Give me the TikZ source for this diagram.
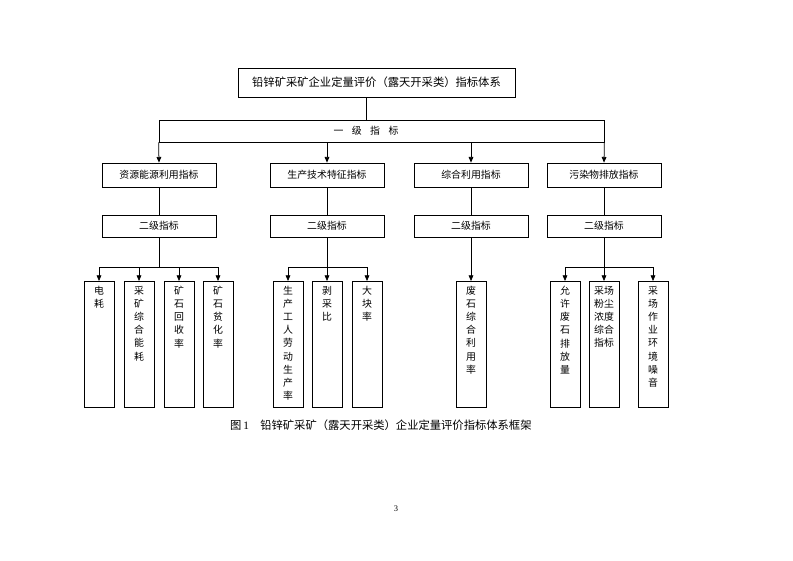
\documentclass[tikz,border=0pt]{standalone}
\usepackage{fontspec}
\setmainfont{Liberation Serif}
\newfontfamily\cjk{Noto Sans CJK SC}
\usetikzlibrary{arrows.meta}

% one pixel of the page, as a length
\def\pxu{1.0617pt}

\tikzset{
	box/.style={draw, line width=0.8pt, inner sep=0pt, font=\cjk\fontsize{10.5}{12}\selectfont},
	headbox/.style={box, minimum width=114*\pxu},
	leafbox/.style={draw, line width=0.8pt, inner sep=0pt, anchor=north, minimum width=30*\pxu, minimum height=126*\pxu},
	vtext/.style={inner sep=0pt, anchor=north, align=center, font=\cjk\fontsize{10.5}{14}\selectfont},
	conn/.style={line width=0.8pt},
	link/.style={conn, -{Triangle[length=6pt,width=5pt]}},
}

\begin{document}
\begin{tikzpicture}[x=\pxu, y=-\pxu]
	\useasboundingbox (0,0) rectangle (793,561);

	% top of the tree
	\node[box, minimum width=277*\pxu, minimum height=29*\pxu, font=\cjk\fontsize{12}{14}\selectfont]
		(top) at (376.5,82.5) {铅锌矿采矿企业定量评价（露天开采类）指标体系};
	\node[draw, line width=0.8pt, minimum width=445*\pxu, minimum height=22*\pxu] (band) at (381.5,131) {};
	\node[inner sep=0pt, font=\cjk\fontsize{10.5}{12}\selectfont] (yiji) at (366,131)
		{一\hspace{9pt}级\hspace{9pt}指\hspace{9pt}标};
	\draw[conn] (top.south -| yiji) -- (band.north -| yiji);

	% first level
	\node[headbox, minimum height=24*\pxu] (zyly) at (159,175) {资源能源利用指标};
	\node[headbox, minimum height=24*\pxu] (scjs) at (327,175) {生产技术特征指标};
	\node[headbox, minimum height=24*\pxu] (zhly) at (471,175) {综合利用指标};
	\node[headbox, minimum height=24*\pxu] (wrpf) at (604,175) {污染物排放指标};
	\draw[link] (band.south west) -- (zyly.north);
	\draw[link] (band.south -| scjs) -- (scjs.north);
	\draw[link] (band.south -| zhly) -- (zhly.north);
	\draw[link] (band.south east) -- (wrpf.north);

	% second level
	\foreach \h in {zyly, scjs, zhly, wrpf} {
		\node[headbox, minimum height=22*\pxu] (\h2) at ([yshift=-51*\pxu]\h.center) {二级指标};
		\draw[conn] (\h.south) -- (\h2.north);
	}

	% leaves
	\foreach \n/\x/\t in {
		dh/99/{电\\耗}, cknh/139/{采\\矿\\综\\合\\能\\耗}, hsl/179/{矿\\石\\回\\收\\率}, phl/218/{矿\\石\\贫\\化\\率},
		ldl/288/{生\\产\\工\\人\\劳\\动\\生\\产\\率}, bcb/327/{剥\\采\\比}, dkl/367/{大\\块\\率},
		fsly/471/{废\\石\\综\\合\\利\\用\\率},
		fspf/565/{允\\许\\废\\石\\排\\放\\量}, fcnd/604/{采场\\粉尘\\浓度\\综合\\指标}, zsy/653/{采\\场\\作\\业\\环\\境\\噪\\音}} {
		\node[leafbox] (\n) at (\x,281) {};
		\node[vtext] at ([yshift=-5pt]\n.north) {\t};
	}

	% branches down to the leaves
	\coordinate (ja) at (159,267);
	\coordinate (jb) at (327,267);
	\coordinate (jd) at (604,267);
	\draw[conn] (zyly2.south) -- (ja);
	\draw[conn] (ja -| dh) -- (ja -| phl);
	\foreach \n in {dh, cknh, hsl, phl}
		\draw[link] (ja -| \n) -- (\n.north);
	\draw[conn] (scjs2.south) -- (jb);
	\draw[conn] (jb -| ldl) -- (jb -| dkl);
	\foreach \n in {ldl, bcb, dkl}
		\draw[link] (jb -| \n) -- (\n.north);
	\draw[link] (zhly2.south) -- (fsly.north);
	\draw[conn] (wrpf2.south) -- (jd);
	\draw[conn] (jd -| fspf) -- (jd -| zsy);
	\foreach \n in {fspf, fcnd, zsy}
		\draw[link] (jd -| \n) -- (\n.north);

	% caption and page number
	\node[anchor=west, inner sep=0pt, font=\cjk\fontsize{12}{14}\selectfont] (caption) at (230,425)
		{图\,{\rmfamily 1}\hspace{12pt}铅锌矿采矿（露天开采类）企业定量评价指标体系框架};
	\node[inner sep=0pt, font=\fontsize{9}{10}\selectfont] (page) at (396,509) {3};
\end{tikzpicture}
\end{document}
